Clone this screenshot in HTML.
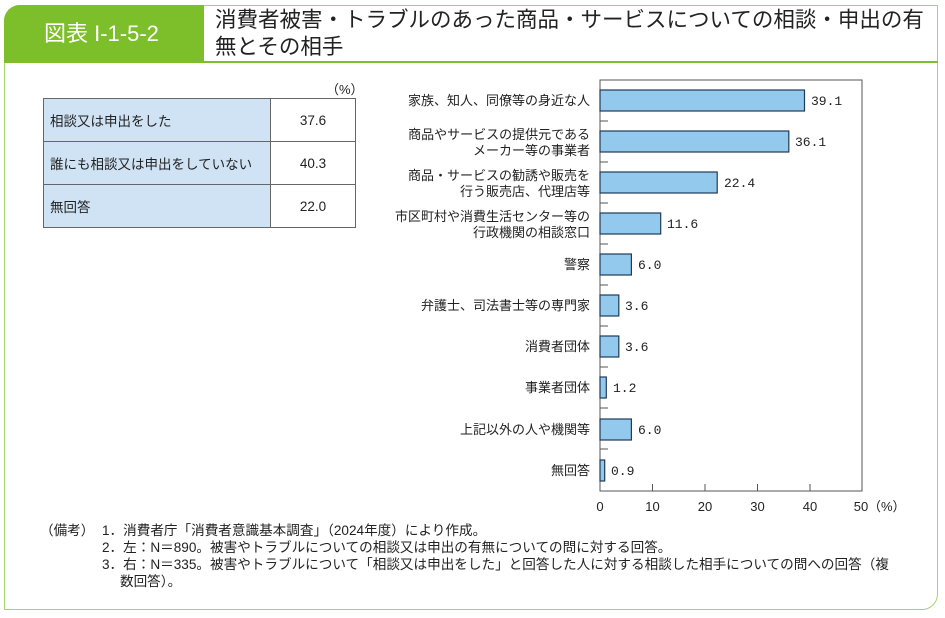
<!DOCTYPE html>
<html><head><meta charset="utf-8"><style>
body{margin:0;width:945px;height:618px;background:#fff;font-family:"Liberation Sans","Noto Sans CJK JP",sans-serif;color:#222;position:relative;overflow:hidden}
.frame{position:absolute;left:4px;top:5px;width:934px;height:605px;border:1.5px solid #a8d26a;border-radius:16px 0 16px 0;box-sizing:border-box}
.hd{position:absolute;left:4px;top:5px;width:200px;height:57px;background:#7dbf2a;border-radius:16px 0 0 0;color:#fff;font-size:22px;line-height:57px;padding-left:40px;box-sizing:border-box}
.hl{position:absolute;left:4px;top:61px;width:934px;height:2px;background:#7dbf2a}
.ttl{position:absolute;left:215px;top:7px;font-size:21.5px;line-height:27px;color:#222}
table{position:absolute;left:43px;top:98px;border-collapse:collapse;font-size:13.5px}
td{border:1px solid #666;height:42px;padding:0}
td.a{background:#cfe3f5;width:220px;padding-left:6px}
td.b{width:84px;text-align:center}
.pct{position:absolute;left:326px;top:79px;font-size:13px}
.note{position:absolute;font-size:13.6px;line-height:17px;white-space:nowrap}
</style></head><body>
<div class="frame"></div>
<div class="hd">図表 I-1-5-2</div>
<div class="hl"></div>
<div class="ttl">消費者被害・トラブルのあった商品・サービスについての相談・申出の有<br>無とその相手</div>
<div class="pct">（%）</div>
<table>
<tr><td class="a">相談又は申出をした</td><td class="b">37.6</td></tr>
<tr><td class="a">誰にも相談又は申出をしていない</td><td class="b">40.3</td></tr>
<tr><td class="a">無回答</td><td class="b">22.0</td></tr>
</table>
<svg width="945" height="618" style="position:absolute;left:0;top:0" font-family="Liberation Sans,Noto Sans CJK JP,sans-serif" font-size="13">
<rect x="600" y="80" width="262" height="411" fill="none" stroke="#555" stroke-width="1"/>
<g stroke="#555">
<line x1="600" y1="121" x2="608" y2="121"/><line x1="600" y1="162" x2="608" y2="162"/><line x1="600" y1="203" x2="608" y2="203"/><line x1="600" y1="244" x2="608" y2="244"/><line x1="600" y1="285" x2="608" y2="285"/><line x1="600" y1="326" x2="608" y2="326"/><line x1="600" y1="367" x2="608" y2="367"/><line x1="600" y1="408" x2="608" y2="408"/><line x1="600" y1="449" x2="608" y2="449"/>
<line x1="652.5" y1="491" x2="652.5" y2="484"/><line x1="705" y1="491" x2="705" y2="484"/><line x1="757.5" y1="491" x2="757.5" y2="484"/><line x1="810" y1="491" x2="810" y2="484"/>
</g>
<g fill="#93c9ec" stroke="#1f3b5a" stroke-width="1.2">
<rect x="600" y="90" width="204.5" height="21"/>
<rect x="600" y="131" width="188.8" height="21"/>
<rect x="600" y="172" width="117.2" height="21"/>
<rect x="600" y="213" width="60.7" height="21"/>
<rect x="600" y="254" width="31.4" height="21"/>
<rect x="600" y="295" width="18.8" height="21"/>
<rect x="600" y="336" width="18.8" height="21"/>
<rect x="600" y="377" width="6.3" height="21"/>
<rect x="600" y="419" width="31.4" height="21"/>
<rect x="600" y="460" width="4.7" height="21"/>
</g>
<g fill="#222" font-family="Liberation Mono,monospace">
<text x="811" y="105">39.1</text><text x="795" y="146">36.1</text><text x="724" y="187">22.4</text><text x="667" y="228">11.6</text><text x="638" y="269">6.0</text><text x="625" y="310">3.6</text><text x="625" y="351">3.6</text><text x="613" y="392">1.2</text><text x="638" y="434">6.0</text><text x="611" y="475">0.9</text>
</g>
<g fill="#222" text-anchor="end">
<text x="590" y="105">家族、知人、同僚等の身近な人</text>
<text x="590" y="139">商品やサービスの提供元である</text><text x="590" y="155">メーカー等の事業者</text>
<text x="590" y="180">商品・サービスの勧誘や販売を</text><text x="590" y="196">行う販売店、代理店等</text>
<text x="590" y="221">市区町村や消費生活センター等の</text><text x="590" y="237">行政機関の相談窓口</text>
<text x="590" y="269">警察</text>
<text x="590" y="310">弁護士、司法書士等の専門家</text>
<text x="590" y="351">消費者団体</text>
<text x="590" y="392">事業者団体</text>
<text x="590" y="434">上記以外の人や機関等</text>
<text x="590" y="475">無回答</text>
</g>
<g fill="#222" text-anchor="middle">
<text x="600" y="511">0</text><text x="652.5" y="511">10</text><text x="705" y="511">20</text><text x="757.5" y="511">30</text><text x="810" y="511">40</text><text x="861" y="511">50</text>
</g>
<text x="868" y="511" fill="#222">（%）</text>
</svg>
<div class="note" style="left:40px;top:522px">（備考）</div>
<div class="note" style="left:102px;top:522px">1．消費者庁「消費者意識基本調査」（2024年度）により作成。</div>
<div class="note" style="left:102px;top:539px">2．左：N＝890。被害やトラブルについての相談又は申出の有無についての問に対する回答。</div>
<div class="note" style="left:102px;top:556px">3．右：N＝335。被害やトラブルについて「相談又は申出をした」と回答した人に対する相談した相手についての問への回答（複</div>
<div class="note" style="left:120px;top:573px">数回答）。</div>
</body></html>
